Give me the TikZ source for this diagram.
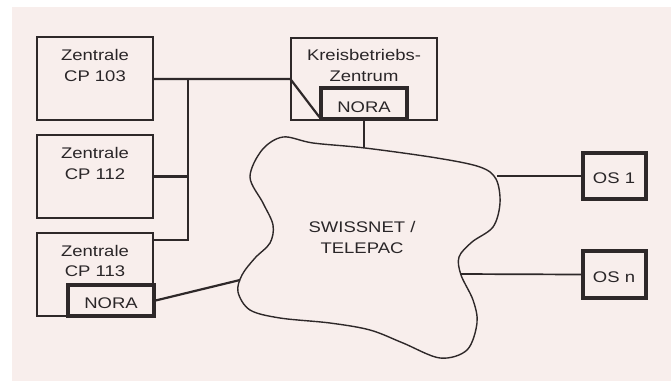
\documentclass[tikz,border=0pt]{standalone}
\usepackage{fontspec}
\setmainfont{Liberation Sans}[FakeStretch=1.2]
\definecolor{bg}{HTML}{F8EEEC}
\definecolor{lc}{HTML}{2E2829}
\definecolor{tc}{HTML}{2A2628}
\begin{document}
\begin{tikzpicture}[x=1pt,y=-1pt,
  box/.style={draw=lc, line width=1.3pt, inner sep=0pt},
  thickbox/.style={draw=lc, line width=3.2pt, inner sep=0pt},
  lbl/.style={text=tc, font=\fontsize{15.4}{20.5}\selectfont, inner sep=0pt, align=center},
  conn/.style={draw=lc, line width=2.2pt},
  thinconn/.style={draw=lc, line width=1.7pt}]
\useasboundingbox (0,0) rectangle (671,381);
\fill[white] (0,0) rectangle (671,381);
\fill[bg] (12,7) rectangle (671,381);
% boxes
\node[box, minimum width=116, minimum height=83] (cp103) at (95,78.5) {};
\node[box, minimum width=116, minimum height=83] (cp112) at (95,176.5) {};
\node[box, minimum width=116, minimum height=83] (cp113) at (95,274.5) {};
\node[thickbox, fill=bg, minimum width=86, minimum height=31] (nora113) at (111,300.5) {};
\node[box, minimum width=146, minimum height=82] (kreis) at (364,79) {};
\node[thickbox, fill=bg, minimum width=86, minimum height=31] (nora) at (364,103.5) {};
\node[thickbox, minimum width=63, minimum height=46] (os1) at (614.5,176) {};
\node[thickbox, minimum width=63, minimum height=47] (osn) at (614.5,274.5) {};
% texts
\node[lbl, anchor=base] (t103) at (95,81) {Zentrale\\CP 103};
\node[lbl, anchor=base] (t112) at (95,179) {Zentrale\\CP 112};
\node[lbl, anchor=base] (t113) at (95,276.5) {Zentrale\\CP 113};
\node[lbl, anchor=base] (tk) at (364,81) {Kreisbetriebs-\\Zentrum};
\node[lbl, anchor=base] (tn1) at (111,308) {NORA};
\node[lbl, anchor=base] (tn2) at (364,112) {NORA};
\node[lbl, anchor=base] (to1) at (614,183) {OS 1};
\node[lbl, anchor=base] (ton) at (614,282) {OS n};
\node[lbl, anchor=base] (tsw) at (362,253) {SWISSNET /\\TELEPAC};
% cloud
\draw[lc, line width=1.4pt] plot[smooth cycle, tension=0.55] coordinates {
 (283,137) (313,143) (365,148) (437,158) (480,167) (496,179) (500,203)
 (493,227) (472,242) (459,257) (461,275) (473,300) (477,323) (467,350)
 (440,358) (403,343) (370,330) (330,323) (280,318) (250,310) (238,292)
 (242,275) (255,258) (270,243) (273,225) (263,203) (250,177) (262,150)};
\coordinate (ctop) at (364,148);
\coordinate (cos1) at (497,176);
\coordinate (cosn) at (460,274);
\coordinate (cnora) at (240,280);
% connectors
\coordinate (bustop) at (188,79);
\coordinate (busbot) at (188,240);
\coordinate (c113r) at (153,240);
\path[conn] (cp103.east |- bustop) -- (kreis.west) -- ([yshift=3.5]nora.south west);
\path[conn] (bustop) -- (busbot) -- (c113r);
\path[conn] (cp112.east) -- (cp112.east -| bustop);
\path[conn] (nora113.east) -- (cnora);
\path[thinconn] (nora.south) -- (ctop);
\path[thinconn] (cos1) -- (os1.west);
\path[thinconn] (cosn) -- (osn.west);
\end{tikzpicture}
\end{document}
